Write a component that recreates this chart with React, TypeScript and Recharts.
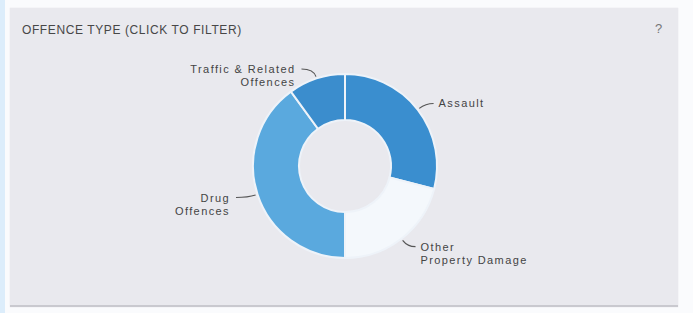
import React from "react";
import { PieChart, Pie, Cell } from "recharts";

const categories = ["Assault", "Other Property Damage", "Drug Offences", "Traffic & Related Offences"];
const labelLines = [["Assault"], ["Other", "Property Damage"], ["Drug", "Offences"], ["Traffic & Related", "Offences"]];
const values = [29, 21, 40, 10];
const colors = ["#3a8ecf", "#f4f8fc", "#5aa9de", "#3b8dcd"];

const data = categories.map((name, i) => ({ name, value: values[i], lines: labelLines[i] }));

const RAD = Math.PI / 180;

const renderLabel = (props: any) => {
  const { cx, cy, midAngle, outerRadius, index } = props;
  const cos = Math.cos(-midAngle * RAD);
  const sin = Math.sin(-midAngle * RAD);
  const sx = cx + (outerRadius + 2) * cos;
  const sy = cy + (outerRadius + 2) * sin;
  const mx = cx + (outerRadius + 10) * cos;
  const my = cy + (outerRadius + 10) * sin;
  const right = cos >= 0;
  const ex = mx + (right ? 8 : -12);
  const ey = my;
  const tx = ex + (right ? 5 : -6);
  const lines: string[] = data[index].lines;
  return (
    <g key={`lbl-${index}`}>
      <path
        d={`M${sx},${sy} Q${mx},${my} ${ex},${ey}`}
        stroke="#555"
        strokeWidth={1.2}
        fill="none"
      />
      <text
        x={tx}
        y={ey}
        textAnchor={right ? "start" : "end"}
        fill="#444"
        fontSize={11}
        letterSpacing={1.4}
        fontFamily="'Liberation Sans', Arial, sans-serif"
        dominantBaseline="central"
      >
        {lines.map((l, i) => (
          <tspan key={i} x={tx} dy={i === 0 ? 0 : 13}>
            {l}
          </tspan>
        ))}
      </text>
    </g>
  );
};

export default function App() {
  return (
    <div
      style={{
        position: "relative",
        width: 693,
        height: 313,
        background: "#fafbfd",
        overflow: "hidden",
        fontFamily: "'Liberation Sans', Arial, sans-serif",
      }}
    >
      <style>{`body{margin:0}`}</style>
      <div style={{ position: "absolute", left: 0, top: 0, width: 5, height: 313, background: "#dcedfb" }} />
      <div
        style={{
          position: "absolute",
          left: 10,
          top: 8,
          width: 668,
          height: 297,
          background: "#e9e9ee",
          borderBottom: "2px solid #c9c9cf",
          boxShadow: "0 0 1px #d8d8de",
        }}
      />
      <div
        style={{
          position: "absolute",
          left: 22,
          top: 22,
          fontSize: 12,
          letterSpacing: 0.6,
          color: "#474747",
          lineHeight: "16px",
        }}
      >
        OFFENCE TYPE (CLICK TO FILTER)
      </div>
      <div style={{ position: "absolute", left: 655, top: 21, fontSize: 13, color: "#777" }}>?</div>
      <div style={{ position: "absolute", left: 0, top: 0 }}>
        <PieChart width={693} height={313} margin={{ top: 0, right: 0, bottom: 0, left: 0 }}>
          <Pie
            data={data}
            dataKey="value"
            nameKey="name"
            cx={345}
            cy={166}
            innerRadius={46}
            outerRadius={92}
            startAngle={90}
            endAngle={-270}
            stroke="#eef3f9"
            strokeWidth={2}
            label={renderLabel}
            labelLine={false}
            isAnimationActive={false}
          >
            {data.map((d, i) => (
              <Cell key={d.name} fill={colors[i]} />
            ))}
          </Pie>
        </PieChart>
      </div>
    </div>
  );
}
